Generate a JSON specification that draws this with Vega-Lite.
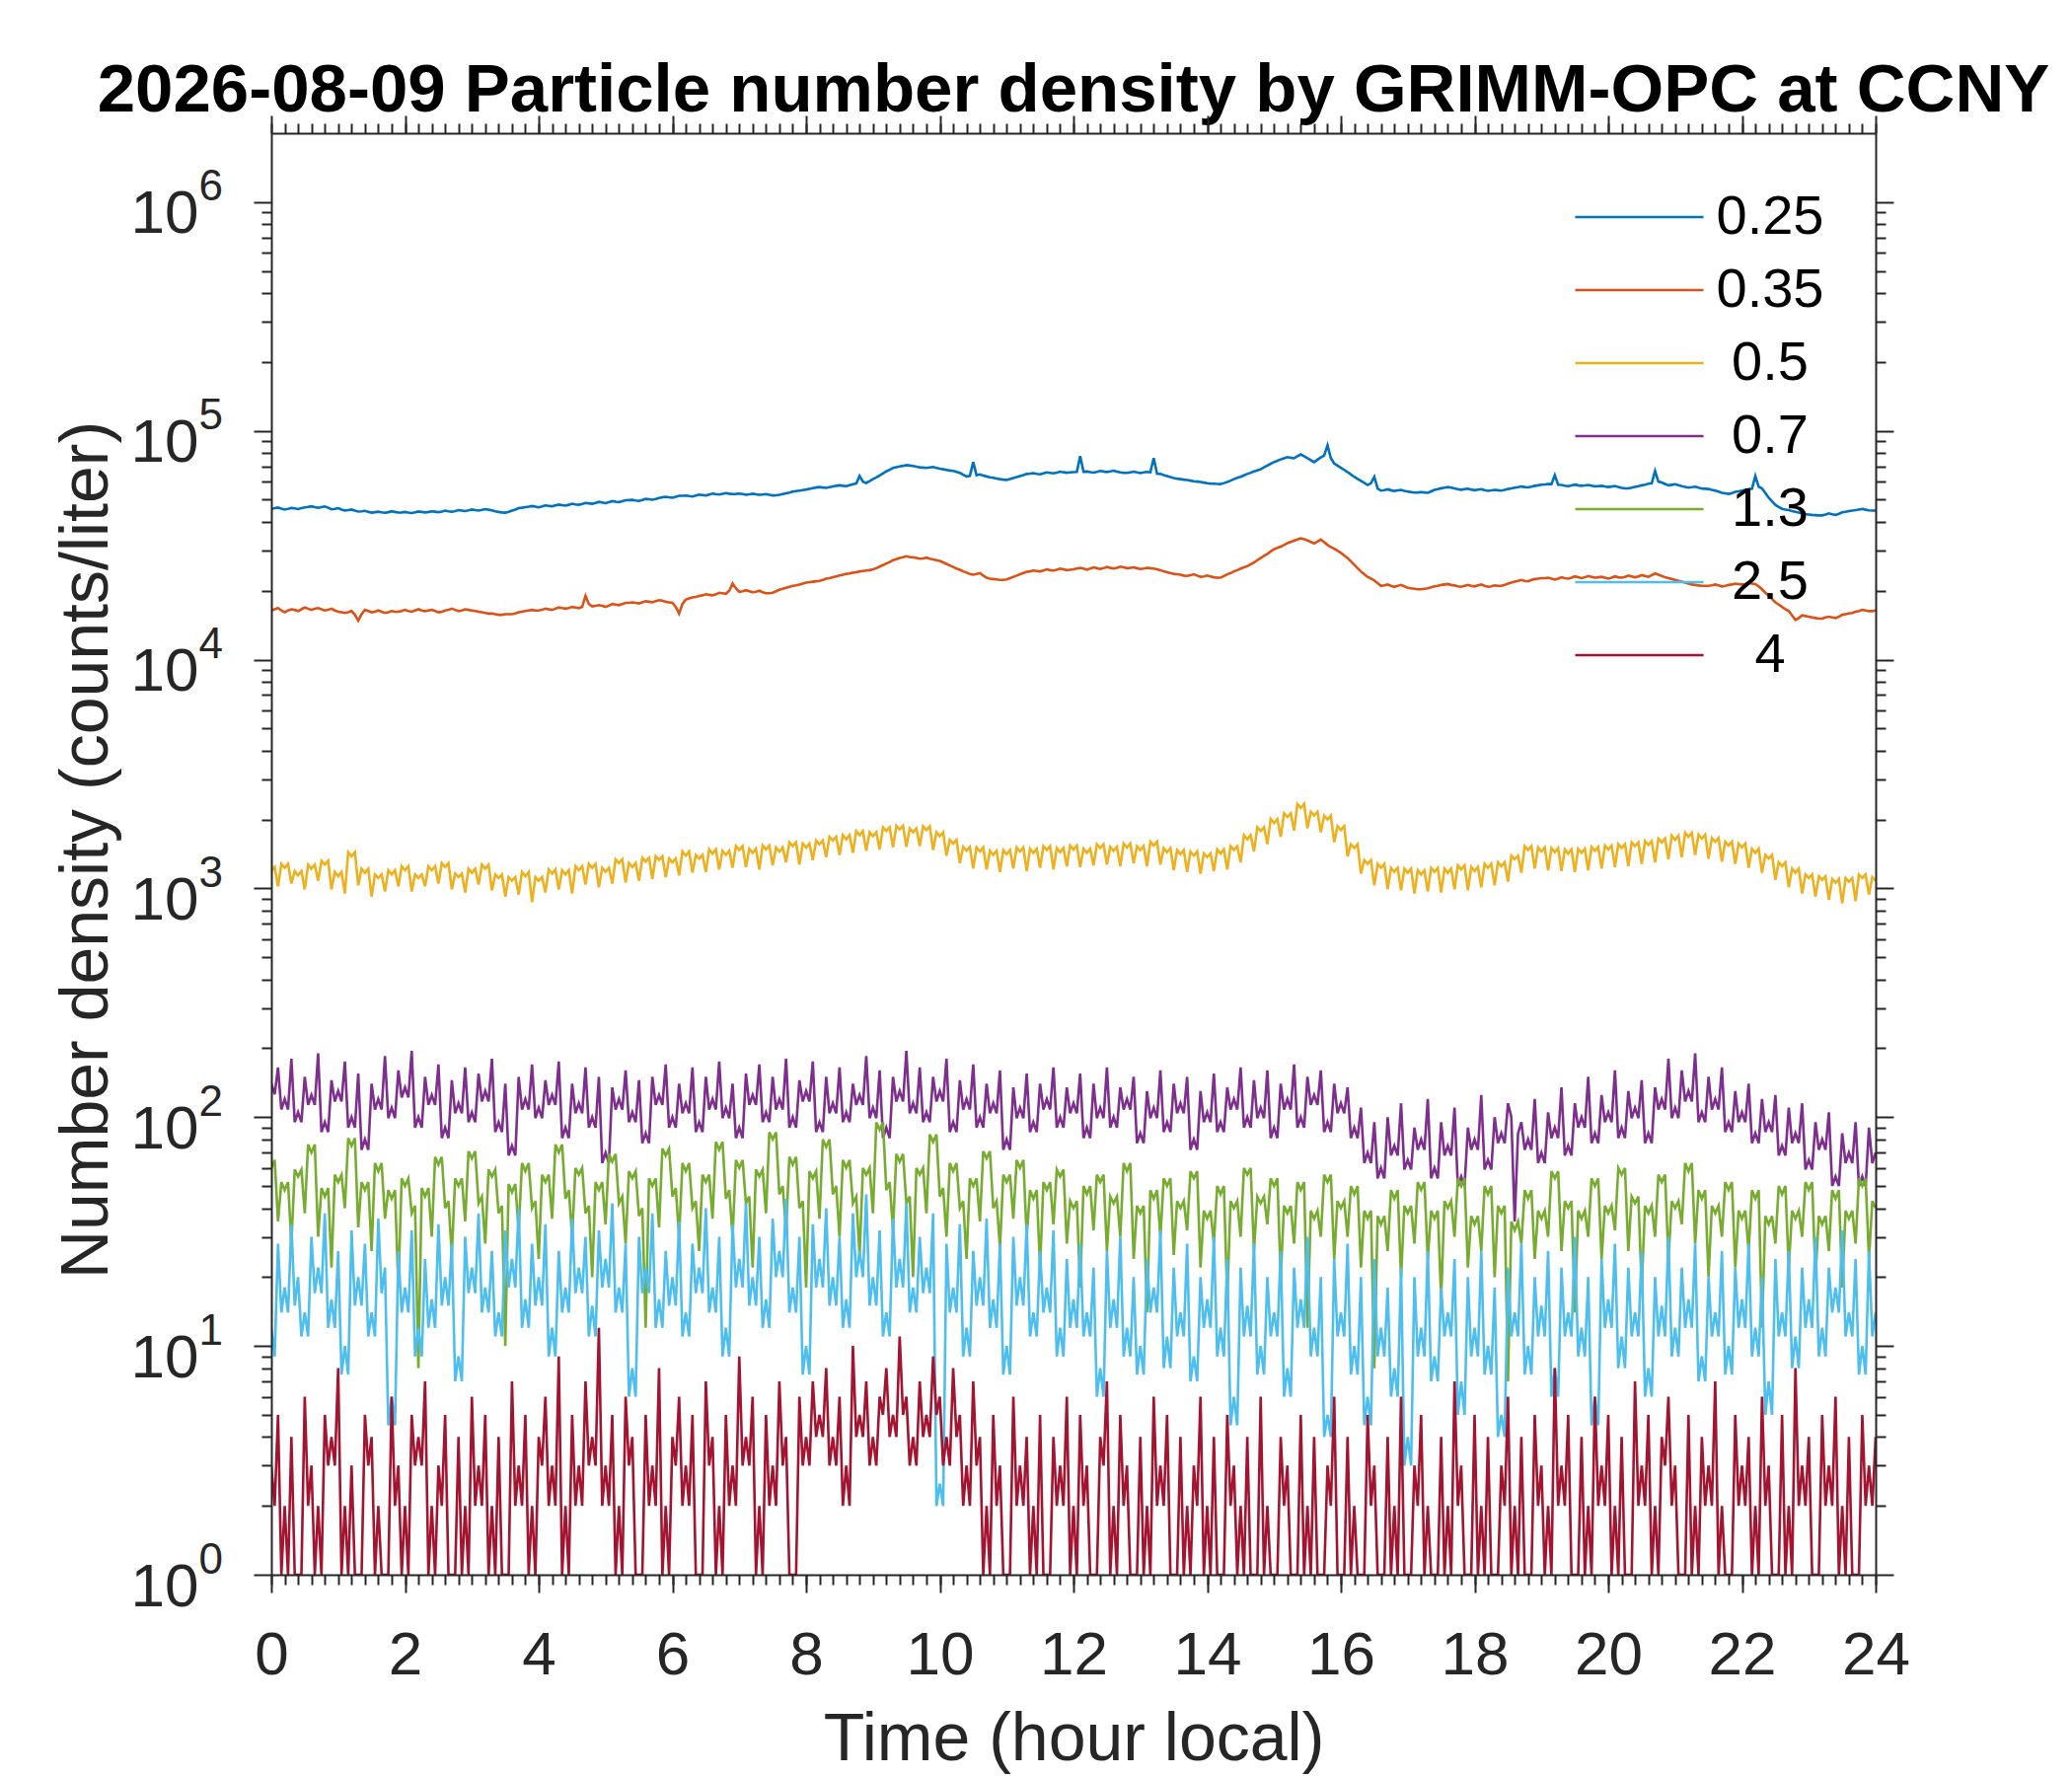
{
  "$schema": "https://vega.github.io/schema/vega-lite/v6.json",
  "width": 1626,
  "height": 1461,
  "autosize": {"type": "none"},
  "padding": {"left": 275, "top": 135, "right": 199, "bottom": 204},
  "background": "white",
  "title": {
    "text": "2026-08-09 Particle number density by GRIMM-OPC at CCNY",
    "font": "Liberation Sans",
    "fontSize": 69,
    "fontWeight": "bold",
    "color": "black",
    "anchor": "middle",
    "frame": "group",
    "baseline": "alphabetic",
    "offset": -66
  },
  "data": {
    "values": [
      {"t":0.0,"a":45600,"b":16400,"c":1190,"d":140,"e":60,"f":12,"g":3},
      {"t":0.1,"a":46200,"b":16800,"c":1020,"d":165,"e":35,"f":28,"g":5},
      {"t":0.2,"a":45300,"b":16100,"c":1230,"d":120,"e":48,"f":18,"g":2},
      {"t":0.3,"a":46000,"b":16600,"c":1050,"d":180,"e":28,"f":34,"g":4},
      {"t":0.4,"a":45500,"b":16300,"c":1140,"d":105,"e":55,"f":20,"g":1},
      {"t":0.5,"a":46300,"b":16900,"c":990,"d":150,"e":38,"f":14,"g":6},
      {"t":0.6,"a":46800,"b":16500,"c":1220,"d":125,"e":70,"f":30,"g":3},
      {"t":0.7,"a":46100,"b":16800,"c":1080,"d":190,"e":30,"f":22,"g":2},
      {"t":0.8,"a":46700,"b":16400,"c":1270,"d":95,"e":45,"f":38,"g":5},
      {"t":0.9,"a":45400,"b":16700,"c":990,"d":145,"e":22,"f":16,"g":4},
      {"t":1.0,"a":45900,"b":16200,"c":1130,"d":130,"e":52,"f":26,"g":8},
      {"t":1.1,"a":44800,"b":16000,"c":950,"d":175,"e":40,"f":10,"g":2},
      {"t":1.2,"a":45300,"b":16300,"c":1380,"d":100,"e":75,"f":32,"g":3},
      {"t":1.3,"a":44400,"b":14800,"c":1030,"d":155,"e":33,"f":20,"g":1},
      {"t":1.4,"a":44700,"b":16500,"c":1170,"d":80,"e":48,"f":28,"g":5},
      {"t":1.5,"a":43900,"b":16100,"c":920,"d":140,"e":26,"f":14,"g":4},
      {"t":1.6,"a":44300,"b":16400,"c":1110,"d":120,"e":58,"f":36,"g":2},
      {"t":1.7,"a":43800,"b":16000,"c":970,"d":185,"e":36,"f":22,"g":1},
      {"t":1.8,"a":44500,"b":16300,"c":1150,"d":110,"e":44,"f":6,"g":6},
      {"t":1.9,"a":43900,"b":16200,"c":1020,"d":160,"e":18,"f":26,"g":3},
      {"t":2.0,"a":44200,"b":16500,"c":1200,"d":135,"e":50,"f":18,"g":2},
      {"t":2.1,"a":43700,"b":16200,"c":970,"d":195,"e":38,"f":32,"g":5},
      {"t":2.2,"a":44400,"b":16600,"c":1110,"d":100,"e":8,"f":12,"g":4},
      {"t":2.3,"a":44000,"b":16300,"c":1020,"d":150,"e":45,"f":24,"g":7},
      {"t":2.4,"a":44500,"b":16500,"c":1200,"d":125,"e":30,"f":16,"g":2},
      {"t":2.5,"a":44100,"b":16100,"c":1050,"d":170,"e":62,"f":34,"g":3},
      {"t":2.6,"a":44800,"b":16400,"c":1240,"d":90,"e":40,"f":20,"g":5},
      {"t":2.7,"a":44300,"b":16700,"c":990,"d":145,"e":25,"f":28,"g":1},
      {"t":2.8,"a":45000,"b":16300,"c":1120,"d":115,"e":50,"f":9,"g":4},
      {"t":2.9,"a":44600,"b":16600,"c":960,"d":165,"e":35,"f":30,"g":2},
      {"t":3.0,"a":45300,"b":16400,"c":1170,"d":105,"e":66,"f":22,"g":6},
      {"t":3.1,"a":44800,"b":16200,"c":1040,"d":155,"e":42,"f":38,"g":3},
      {"t":3.2,"a":45500,"b":16000,"c":1220,"d":130,"e":28,"f":18,"g":5},
      {"t":3.3,"a":44900,"b":15900,"c":980,"d":180,"e":55,"f":26,"g":2},
      {"t":3.4,"a":44200,"b":15700,"c":1110,"d":95,"e":38,"f":14,"g":4},
      {"t":3.5,"a":43900,"b":15800,"c":920,"d":140,"e":10,"f":32,"g":1},
      {"t":3.6,"a":44800,"b":15800,"c":1080,"d":75,"e":47,"f":24,"g":7},
      {"t":3.7,"a":45900,"b":16100,"c":940,"d":150,"e":32,"f":40,"g":3},
      {"t":3.8,"a":46400,"b":16300,"c":1130,"d":120,"e":58,"f":16,"g":5},
      {"t":3.9,"a":46900,"b":16500,"c":870,"d":170,"e":40,"f":28,"g":2},
      {"t":4.0,"a":46300,"b":16400,"c":1080,"d":110,"e":24,"f":20,"g":4},
      {"t":4.1,"a":47200,"b":16700,"c":960,"d":145,"e":52,"f":34,"g":6},
      {"t":4.2,"a":46800,"b":16500,"c":1160,"d":125,"e":36,"f":12,"g":3},
      {"t":4.3,"a":47600,"b":16900,"c":990,"d":175,"e":70,"f":26,"g":9},
      {"t":4.4,"a":47100,"b":16700,"c":1150,"d":90,"e":44,"f":18,"g":2},
      {"t":4.5,"a":48000,"b":17000,"c":950,"d":140,"e":30,"f":36,"g":5},
      {"t":4.6,"a":47500,"b":16800,"c":1200,"d":115,"e":56,"f":22,"g":3},
      {"t":4.7,"a":48400,"b":19000,"c":1040,"d":165,"e":38,"f":30,"g":7},
      {"t":4.8,"a":48000,"b":17100,"c":1230,"d":100,"e":20,"f":15,"g":4},
      {"t":4.9,"a":48900,"b":17300,"c":1010,"d":150,"e":48,"f":32,"g":12},
      {"t":5.0,"a":48300,"b":17000,"c":1180,"d":70,"e":34,"f":24,"g":3},
      {"t":5.1,"a":49300,"b":17500,"c":1050,"d":135,"e":64,"f":42,"g":5},
      {"t":5.2,"a":48800,"b":17300,"c":1290,"d":120,"e":42,"f":18,"g":2},
      {"t":5.3,"a":49700,"b":17700,"c":1060,"d":160,"e":28,"f":28,"g":6},
      {"t":5.4,"a":49900,"b":17800,"c":1240,"d":105,"e":54,"f":8,"g":4},
      {"t":5.5,"a":49400,"b":17600,"c":1080,"d":145,"e":37,"f":30,"g":1},
      {"t":5.6,"a":50400,"b":18000,"c":1310,"d":85,"e":12,"f":22,"g":5},
      {"t":5.7,"a":50000,"b":17800,"c":1100,"d":150,"e":50,"f":38,"g":3},
      {"t":5.8,"a":50900,"b":18200,"c":1330,"d":125,"e":33,"f":16,"g":8},
      {"t":5.9,"a":51500,"b":17900,"c":1120,"d":170,"e":68,"f":26,"g":2},
      {"t":6.0,"a":51000,"b":17700,"c":1300,"d":100,"e":45,"f":20,"g":4},
      {"t":6.1,"a":52000,"b":15900,"c":1140,"d":140,"e":30,"f":35,"g":6},
      {"t":6.2,"a":52100,"b":18300,"c":1390,"d":115,"e":58,"f":14,"g":3},
      {"t":6.3,"a":51600,"b":18700,"c":1170,"d":165,"e":40,"f":28,"g":5},
      {"t":6.4,"a":52600,"b":19000,"c":1350,"d":95,"e":26,"f":22,"g":1},
      {"t":6.5,"a":52200,"b":19300,"c":1180,"d":150,"e":52,"f":40,"g":7},
      {"t":6.6,"a":53200,"b":19100,"c":1420,"d":120,"e":36,"f":18,"g":4},
      {"t":6.7,"a":52700,"b":19600,"c":1210,"d":175,"e":72,"f":30,"g":2},
      {"t":6.8,"a":53400,"b":19400,"c":1400,"d":110,"e":44,"f":12,"g":5},
      {"t":6.9,"a":52900,"b":21500,"c":1230,"d":140,"e":30,"f":34,"g":3},
      {"t":7.0,"a":53200,"b":19800,"c":1470,"d":90,"e":60,"f":24,"g":9},
      {"t":7.1,"a":52600,"b":20100,"c":1240,"d":155,"e":42,"f":42,"g":4},
      {"t":7.2,"a":53100,"b":19700,"c":1430,"d":125,"e":22,"f":20,"g":6},
      {"t":7.3,"a":52500,"b":20000,"c":1210,"d":170,"e":55,"f":30,"g":2},
      {"t":7.4,"a":52900,"b":19500,"c":1480,"d":105,"e":38,"f":16,"g":5},
      {"t":7.5,"a":52200,"b":19600,"c":1260,"d":150,"e":80,"f":36,"g":3},
      {"t":7.6,"a":52500,"b":20200,"c":1450,"d":120,"e":46,"f":26,"g":7},
      {"t":7.7,"a":53300,"b":20600,"c":1300,"d":180,"e":32,"f":44,"g":4},
      {"t":7.8,"a":54200,"b":21000,"c":1530,"d":100,"e":62,"f":18,"g":1},
      {"t":7.9,"a":54800,"b":21300,"c":1270,"d":145,"e":40,"f":30,"g":6},
      {"t":8.0,"a":55400,"b":21700,"c":1510,"d":130,"e":18,"f":10,"g":4},
      {"t":8.1,"a":56200,"b":21900,"c":1330,"d":175,"e":54,"f":34,"g":7},
      {"t":8.2,"a":56800,"b":22100,"c":1560,"d":95,"e":36,"f":24,"g":5},
      {"t":8.3,"a":56300,"b":22600,"c":1370,"d":150,"e":74,"f":40,"g":8},
      {"t":8.4,"a":57200,"b":22900,"c":1620,"d":115,"e":46,"f":20,"g":4},
      {"t":8.5,"a":57800,"b":23300,"c":1400,"d":165,"e":30,"f":30,"g":6},
      {"t":8.6,"a":57300,"b":23700,"c":1640,"d":105,"e":60,"f":16,"g":3},
      {"t":8.7,"a":58500,"b":24000,"c":1430,"d":140,"e":42,"f":38,"g":10},
      {"t":8.8,"a":63500,"b":24300,"c":1710,"d":125,"e":25,"f":26,"g":5},
      {"t":8.9,"a":59200,"b":24500,"c":1460,"d":185,"e":56,"f":46,"g":7},
      {"t":9.0,"a":61500,"b":24800,"c":1690,"d":110,"e":38,"f":20,"g":4},
      {"t":9.1,"a":63800,"b":25500,"c":1480,"d":160,"e":88,"f":32,"g":6},
      {"t":9.2,"a":66500,"b":26300,"c":1780,"d":90,"e":48,"f":14,"g":8},
      {"t":9.3,"a":68800,"b":27200,"c":1510,"d":150,"e":32,"f":36,"g":5},
      {"t":9.4,"a":69900,"b":27800,"c":1810,"d":130,"e":64,"f":24,"g":11},
      {"t":9.5,"a":70800,"b":28300,"c":1520,"d":195,"e":42,"f":42,"g":6},
      {"t":9.6,"a":70200,"b":28000,"c":1760,"d":115,"e":20,"f":18,"g":4},
      {"t":9.7,"a":69300,"b":27600,"c":1530,"d":165,"e":56,"f":30,"g":7},
      {"t":9.8,"a":68900,"b":27900,"c":1800,"d":105,"e":38,"f":22,"g":5},
      {"t":9.9,"a":69500,"b":27400,"c":1470,"d":150,"e":78,"f":38,"g":9},
      {"t":10.0,"a":68300,"b":27000,"c":1690,"d":130,"e":45,"f":2.5,"g":6},
      {"t":10.1,"a":67500,"b":26200,"c":1390,"d":180,"e":30,"f":28,"g":4},
      {"t":10.2,"a":66800,"b":25400,"c":1570,"d":95,"e":58,"f":18,"g":8},
      {"t":10.3,"a":65500,"b":24700,"c":1290,"d":145,"e":40,"f":34,"g":5},
      {"t":10.4,"a":63200,"b":24000,"c":1460,"d":120,"e":24,"f":12,"g":3},
      {"t":10.5,"a":73000,"b":23500,"c":1220,"d":170,"e":50,"f":26,"g":7},
      {"t":10.6,"a":64500,"b":23900,"c":1450,"d":100,"e":35,"f":20,"g":4},
      {"t":10.7,"a":63200,"b":22800,"c":1210,"d":140,"e":66,"f":36,"g":2},
      {"t":10.8,"a":62300,"b":22500,"c":1400,"d":115,"e":40,"f":16,"g":5},
      {"t":10.9,"a":61500,"b":22300,"c":1180,"d":160,"e":27,"f":28,"g":3},
      {"t":11.0,"a":61000,"b":22400,"c":1410,"d":80,"e":52,"f":10,"g":1},
      {"t":11.1,"a":62200,"b":23000,"c":1220,"d":135,"e":36,"f":30,"g":6},
      {"t":11.2,"a":63500,"b":23600,"c":1450,"d":110,"e":60,"f":20,"g":3},
      {"t":11.3,"a":64800,"b":24200,"c":1190,"d":155,"e":30,"f":34,"g":4},
      {"t":11.4,"a":65300,"b":24500,"c":1430,"d":95,"e":44,"f":14,"g":2},
      {"t":11.5,"a":64600,"b":24300,"c":1230,"d":140,"e":22,"f":26,"g":5},
      {"t":11.6,"a":65800,"b":24800,"c":1470,"d":120,"e":48,"f":18,"g":1},
      {"t":11.7,"a":65200,"b":24500,"c":1210,"d":165,"e":34,"f":32,"g":4},
      {"t":11.8,"a":66300,"b":25000,"c":1440,"d":100,"e":55,"f":12,"g":3},
      {"t":11.9,"a":65600,"b":24600,"c":1250,"d":135,"e":28,"f":24,"g":6},
      {"t":12.0,"a":66000,"b":24800,"c":1480,"d":115,"e":40,"f":16,"g":2},
      {"t":12.1,"a":77500,"b":25200,"c":1240,"d":155,"e":18,"f":28,"g":5},
      {"t":12.2,"a":66400,"b":24700,"c":1430,"d":90,"e":46,"f":14,"g":3},
      {"t":12.3,"a":65700,"b":25300,"c":1260,"d":140,"e":32,"f":22,"g":1},
      {"t":12.4,"a":66800,"b":24900,"c":1500,"d":110,"e":52,"f":8,"g":4},
      {"t":12.5,"a":66100,"b":25400,"c":1270,"d":165,"e":26,"f":26,"g":7},
      {"t":12.6,"a":67000,"b":25000,"c":1460,"d":100,"e":42,"f":16,"g":2},
      {"t":12.7,"a":65800,"b":25500,"c":1250,"d":135,"e":30,"f":30,"g":5},
      {"t":12.8,"a":65500,"b":25100,"c":1510,"d":120,"e":58,"f":12,"g":3},
      {"t":12.9,"a":66300,"b":25300,"c":1290,"d":150,"e":24,"f":20,"g":1},
      {"t":13.0,"a":65400,"b":24900,"c":1470,"d":85,"e":38,"f":10,"g":4},
      {"t":13.1,"a":66200,"b":25200,"c":1250,"d":130,"e":14,"f":24,"g":2},
      {"t":13.2,"a":76000,"b":25000,"c":1540,"d":110,"e":44,"f":18,"g":6},
      {"t":13.3,"a":64800,"b":24600,"c":1270,"d":160,"e":30,"f":32,"g":3},
      {"t":13.4,"a":63500,"b":24100,"c":1440,"d":95,"e":50,"f":11,"g":5},
      {"t":13.5,"a":62200,"b":23700,"c":1200,"d":140,"e":25,"f":22,"g":1},
      {"t":13.6,"a":61500,"b":23500,"c":1410,"d":115,"e":40,"f":14,"g":4},
      {"t":13.7,"a":61000,"b":23200,"c":1180,"d":150,"e":32,"f":28,"g":2},
      {"t":13.8,"a":60200,"b":23600,"c":1390,"d":80,"e":54,"f":9,"g":3},
      {"t":13.9,"a":59800,"b":23000,"c":1160,"d":130,"e":22,"f":20,"g":6},
      {"t":14.0,"a":59000,"b":23300,"c":1370,"d":105,"e":36,"f":16,"g":2},
      {"t":14.1,"a":58700,"b":22900,"c":1190,"d":155,"e":28,"f":30,"g":4},
      {"t":14.2,"a":58500,"b":22800,"c":1420,"d":95,"e":46,"f":12,"g":1},
      {"t":14.3,"a":59800,"b":23600,"c":1210,"d":135,"e":16,"f":24,"g":5},
      {"t":14.4,"a":61500,"b":24300,"c":1470,"d":120,"e":40,"f":6,"g":3},
      {"t":14.5,"a":63000,"b":25000,"c":1300,"d":165,"e":30,"f":22,"g":2},
      {"t":14.6,"a":64800,"b":25600,"c":1640,"d":100,"e":56,"f":15,"g":4},
      {"t":14.7,"a":66500,"b":26600,"c":1450,"d":145,"e":26,"f":28,"g":1},
      {"t":14.8,"a":67900,"b":27800,"c":1780,"d":110,"e":42,"f":10,"g":6},
      {"t":14.9,"a":70500,"b":29000,"c":1560,"d":160,"e":34,"f":20,"g":2},
      {"t":15.0,"a":73000,"b":30400,"c":1930,"d":90,"e":50,"f":14,"g":1},
      {"t":15.1,"a":75000,"b":31200,"c":1680,"d":140,"e":20,"f":26,"g":4},
      {"t":15.2,"a":76800,"b":32300,"c":2050,"d":120,"e":38,"f":8,"g":3},
      {"t":15.3,"a":75900,"b":33100,"c":1790,"d":170,"e":28,"f":22,"g":1},
      {"t":15.4,"a":78900,"b":33900,"c":2250,"d":100,"e":48,"f":16,"g":5},
      {"t":15.5,"a":76000,"b":33200,"c":1830,"d":150,"e":12,"f":30,"g":2},
      {"t":15.6,"a":73000,"b":32200,"c":2080,"d":125,"e":36,"f":12,"g":4},
      {"t":15.7,"a":76500,"b":33500,"c":1760,"d":160,"e":30,"f":20,"g":1},
      {"t":15.8,"a":86500,"b":31700,"c":2000,"d":95,"e":52,"f":5,"g":3},
      {"t":15.9,"a":72000,"b":30500,"c":1590,"d":140,"e":24,"f":24,"g":6},
      {"t":16.0,"a":69000,"b":29300,"c":1800,"d":115,"e":40,"f":14,"g":1},
      {"t":16.1,"a":66000,"b":27800,"c":1380,"d":135,"e":30,"f":28,"g":4},
      {"t":16.2,"a":63000,"b":26000,"c":1500,"d":90,"e":46,"f":10,"g":2},
      {"t":16.3,"a":60400,"b":24300,"c":1160,"d":110,"e":22,"f":20,"g":1},
      {"t":16.4,"a":58000,"b":23000,"c":1280,"d":70,"e":36,"f":6,"g":5},
      {"t":16.5,"a":63000,"b":22200,"c":1030,"d":95,"e":8,"f":24,"g":3},
      {"t":16.6,"a":54800,"b":21000,"c":1230,"d":60,"e":34,"f":12,"g":1},
      {"t":16.7,"a":55500,"b":21300,"c":990,"d":100,"e":26,"f":18,"g":4},
      {"t":16.8,"a":54600,"b":20800,"c":1180,"d":75,"e":44,"f":8,"g":2},
      {"t":16.9,"a":55200,"b":21200,"c":980,"d":115,"e":20,"f":22,"g":6},
      {"t":17.0,"a":54300,"b":20600,"c":1170,"d":65,"e":38,"f":4,"g":1},
      {"t":17.1,"a":53700,"b":20400,"c":950,"d":90,"e":28,"f":20,"g":3},
      {"t":17.2,"a":54000,"b":20300,"c":1150,"d":80,"e":48,"f":12,"g":5},
      {"t":17.3,"a":53600,"b":20500,"c":970,"d":120,"e":24,"f":26,"g":2},
      {"t":17.4,"a":55200,"b":20900,"c":1180,"d":60,"e":36,"f":9,"g":1},
      {"t":17.5,"a":56100,"b":21200,"c":960,"d":95,"e":16,"f":18,"g":4},
      {"t":17.6,"a":56800,"b":21400,"c":1170,"d":75,"e":40,"f":14,"g":2},
      {"t":17.7,"a":56000,"b":21100,"c":990,"d":110,"e":30,"f":24,"g":7},
      {"t":17.8,"a":55300,"b":20800,"c":1210,"d":55,"e":50,"f":7,"g":3},
      {"t":17.9,"a":55900,"b":21200,"c":980,"d":90,"e":22,"f":20,"g":1},
      {"t":18.0,"a":55000,"b":20900,"c":1190,"d":80,"e":34,"f":12,"g":5},
      {"t":18.1,"a":55600,"b":21300,"c":1010,"d":125,"e":26,"f":26,"g":2},
      {"t":18.2,"a":54700,"b":20800,"c":1230,"d":65,"e":46,"f":10,"g":4},
      {"t":18.3,"a":55200,"b":21100,"c":1030,"d":100,"e":20,"f":18,"g":1},
      {"t":18.4,"a":54800,"b":21000,"c":1250,"d":85,"e":38,"f":5,"g":3},
      {"t":18.5,"a":55700,"b":21500,"c":1070,"d":115,"e":7,"f":22,"g":6},
      {"t":18.6,"a":56400,"b":21900,"c":1340,"d":35,"e":32,"f":14,"g":2},
      {"t":18.7,"a":57100,"b":22300,"c":1170,"d":95,"e":28,"f":28,"g":4},
      {"t":18.8,"a":56600,"b":22000,"c":1470,"d":80,"e":44,"f":10,"g":1},
      {"t":18.9,"a":57500,"b":22500,"c":1220,"d":120,"e":24,"f":20,"g":5},
      {"t":19.0,"a":58200,"b":22700,"c":1450,"d":70,"e":36,"f":15,"g":3},
      {"t":19.1,"a":58500,"b":22800,"c":1200,"d":105,"e":30,"f":26,"g":2},
      {"t":19.2,"a":64000,"b":22400,"c":1440,"d":90,"e":54,"f":8,"g":8},
      {"t":19.3,"a":58000,"b":22900,"c":1190,"d":135,"e":26,"f":22,"g":3},
      {"t":19.4,"a":57300,"b":22600,"c":1420,"d":75,"e":40,"f":14,"g":5},
      {"t":19.5,"a":58200,"b":23100,"c":1180,"d":115,"e":14,"f":30,"g":1},
      {"t":19.6,"a":57500,"b":22700,"c":1430,"d":100,"e":36,"f":12,"g":4},
      {"t":19.7,"a":58000,"b":23200,"c":1200,"d":150,"e":30,"f":20,"g":2},
      {"t":19.8,"a":57200,"b":22800,"c":1460,"d":85,"e":50,"f":6,"g":6},
      {"t":19.9,"a":57500,"b":23000,"c":1220,"d":125,"e":24,"f":24,"g":3},
      {"t":20.0,"a":56800,"b":22600,"c":1480,"d":105,"e":38,"f":16,"g":5},
      {"t":20.1,"a":57400,"b":23100,"c":1240,"d":160,"e":32,"f":28,"g":2},
      {"t":20.2,"a":56300,"b":22800,"c":1500,"d":90,"e":56,"f":11,"g":4},
      {"t":20.3,"a":56000,"b":23300,"c":1250,"d":130,"e":26,"f":22,"g":1},
      {"t":20.4,"a":56900,"b":22900,"c":1530,"d":110,"e":42,"f":14,"g":7},
      {"t":20.5,"a":57800,"b":23400,"c":1280,"d":145,"e":18,"f":26,"g":3},
      {"t":20.6,"a":58700,"b":23000,"c":1550,"d":85,"e":38,"f":8,"g":5},
      {"t":20.7,"a":66800,"b":23800,"c":1300,"d":135,"e":30,"f":20,"g":2},
      {"t":20.8,"a":59500,"b":23200,"c":1590,"d":120,"e":52,"f":15,"g":4},
      {"t":20.9,"a":57800,"b":22700,"c":1340,"d":180,"e":24,"f":30,"g":6},
      {"t":21.0,"a":58400,"b":22300,"c":1630,"d":110,"e":40,"f":12,"g":3},
      {"t":21.1,"a":57300,"b":21900,"c":1370,"d":160,"e":34,"f":22,"g":1},
      {"t":21.2,"a":56500,"b":21500,"c":1680,"d":130,"e":58,"f":16,"g":5},
      {"t":21.3,"a":57000,"b":21200,"c":1400,"d":190,"e":28,"f":28,"g":2},
      {"t":21.4,"a":55900,"b":21000,"c":1650,"d":105,"e":44,"f":9,"g":4},
      {"t":21.5,"a":55700,"b":21000,"c":1350,"d":150,"e":20,"f":20,"g":3},
      {"t":21.6,"a":54800,"b":21300,"c":1600,"d":120,"e":38,"f":14,"g":7},
      {"t":21.7,"a":53600,"b":20900,"c":1310,"d":165,"e":30,"f":26,"g":2},
      {"t":21.8,"a":53000,"b":21200,"c":1540,"d":95,"e":48,"f":10,"g":1},
      {"t":21.9,"a":54100,"b":21500,"c":1280,"d":130,"e":22,"f":22,"g":5},
      {"t":22.0,"a":54800,"b":21300,"c":1510,"d":105,"e":36,"f":16,"g":3},
      {"t":22.1,"a":55600,"b":21600,"c":1230,"d":140,"e":26,"f":28,"g":4},
      {"t":22.2,"a":63500,"b":21400,"c":1430,"d":85,"e":44,"f":12,"g":2},
      {"t":22.3,"a":56000,"b":20300,"c":1170,"d":120,"e":12,"f":20,"g":6},
      {"t":22.4,"a":51000,"b":19000,"c":1350,"d":95,"e":34,"f":7,"g":3},
      {"t":22.5,"a":47500,"b":17800,"c":1090,"d":125,"e":28,"f":24,"g":1},
      {"t":22.6,"a":45600,"b":17000,"c":1250,"d":75,"e":46,"f":14,"g":5},
      {"t":22.7,"a":45000,"b":16300,"c":1010,"d":110,"e":22,"f":26,"g":2},
      {"t":22.8,"a":44300,"b":14900,"c":1170,"d":85,"e":36,"f":11,"g":8},
      {"t":22.9,"a":43600,"b":15600,"c":950,"d":115,"e":30,"f":22,"g":3},
      {"t":23.0,"a":43100,"b":15400,"c":1110,"d":65,"e":48,"f":16,"g":4},
      {"t":23.1,"a":42800,"b":15200,"c":920,"d":95,"e":20,"f":30,"g":1},
      {"t":23.2,"a":42700,"b":15100,"c":1090,"d":80,"e":34,"f":12,"g":5},
      {"t":23.3,"a":43600,"b":15400,"c":890,"d":105,"e":26,"f":22,"g":3},
      {"t":23.4,"a":42900,"b":15200,"c":1060,"d":55,"e":44,"f":18,"g":6},
      {"t":23.5,"a":44000,"b":15700,"c":860,"d":85,"e":18,"f":32,"g":2},
      {"t":23.6,"a":44600,"b":15900,"c":1070,"d":70,"e":36,"f":14,"g":4},
      {"t":23.7,"a":45000,"b":16200,"c":880,"d":95,"e":28,"f":24,"g":1},
      {"t":23.8,"a":45600,"b":16500,"c":1110,"d":55,"e":50,"f":10,"g":5},
      {"t":23.9,"a":44900,"b":16300,"c":940,"d":90,"e":24,"f":26,"g":3},
      {"t":24.0,"a":44800,"b":16400,"c":1080,"d":70,"e":40,"f":14,"g":4},
      {"t":0.05,"a":45900,"b":16600,"c":1240,"d":126,"e":65,"f":9,"g":2},
      {"t":0.15,"a":45700,"b":16400,"c":1280,"d":108,"e":52,"f":14,"g":1},
      {"t":0.25,"a":45600,"b":16400,"c":1280,"d":108,"e":52,"f":14,"g":1},
      {"t":0.35,"a":45800,"b":16500,"c":1190,"d":95,"e":59,"f":15,"g":1},
      {"t":0.45,"a":45900,"b":16600,"c":1190,"d":95,"e":59,"f":11,"g":1},
      {"t":0.55,"a":46500,"b":16700,"c":1270,"d":113,"e":76,"f":11,"g":2},
      {"t":0.65,"a":46400,"b":16700,"c":1270,"d":113,"e":76,"f":17,"g":1},
      {"t":0.75,"a":46400,"b":16600,"c":1320,"d":86,"e":49,"f":17,"g":1},
      {"t":0.85,"a":46100,"b":16500,"c":1320,"d":86,"e":49,"f":12,"g":3},
      {"t":0.95,"a":45600,"b":16400,"c":1180,"d":117,"e":56,"f":12,"g":3},
      {"t":1.05,"a":45300,"b":16100,"c":1180,"d":117,"e":56,"f":7.5,"g":1},
      {"t":1.15,"a":45000,"b":16100,"c":1440,"d":90,"e":81,"f":7.5,"g":1},
      {"t":1.25,"a":44800,"b":15700,"c":1440,"d":90,"e":81,"f":15,"g":1},
      {"t":1.35,"a":44500,"b":15800,"c":1220,"d":72,"e":52,"f":15,"g":1},
      {"t":1.45,"a":44300,"b":16300,"c":1220,"d":72,"e":52,"f":11,"g":3},
      {"t":1.55,"a":44100,"b":16200,"c":1150,"d":108,"e":63,"f":11,"g":1},
      {"t":1.65,"a":44000,"b":16200,"c":1150,"d":108,"e":63,"f":17,"g":1},
      {"t":1.75,"a":44100,"b":16100,"c":1200,"d":99,"e":48,"f":4.5,"g":1},
      {"t":1.85,"a":44200,"b":16200,"c":1200,"d":99,"e":48,"f":4.5,"g":2},
      {"t":1.95,"a":44000,"b":16300,"c":1250,"d":122,"e":54,"f":14,"g":1},
      {"t":2.05,"a":43900,"b":16300,"c":1250,"d":122,"e":54,"f":14,"g":1},
      {"t":2.15,"a":44000,"b":16400,"c":1150,"d":90,"e":41,"f":9,"g":3},
      {"t":2.25,"a":44200,"b":16400,"c":1150,"d":90,"e":49,"f":9,"g":3},
      {"t":2.35,"a":44200,"b":16400,"c":1250,"d":113,"e":49,"f":12,"g":1},
      {"t":2.45,"a":44300,"b":16300,"c":1250,"d":113,"e":67,"f":12,"g":1},
      {"t":2.55,"a":44400,"b":16200,"c":1290,"d":81,"e":67,"f":15,"g":2},
      {"t":2.65,"a":44500,"b":16500,"c":1290,"d":81,"e":43,"f":15,"g":1},
      {"t":2.75,"a":44600,"b":16500,"c":1160,"d":104,"e":54,"f":7,"g":1},
      {"t":2.85,"a":44800,"b":16400,"c":1160,"d":104,"e":54,"f":7,"g":1},
      {"t":2.95,"a":44900,"b":16500,"c":1220,"d":95,"e":71,"f":17,"g":1},
      {"t":3.05,"a":45000,"b":16300,"c":1220,"d":95,"e":71,"f":17,"g":2},
      {"t":3.15,"a":45100,"b":16100,"c":1270,"d":117,"e":45,"f":14,"g":2},
      {"t":3.25,"a":45200,"b":15900,"c":1270,"d":117,"e":59,"f":14,"g":1},
      {"t":3.35,"a":44500,"b":15800,"c":1150,"d":86,"e":59,"f":11,"g":1},
      {"t":3.45,"a":44000,"b":15700,"c":1150,"d":86,"e":41,"f":11,"g":1},
      {"t":3.55,"a":44300,"b":15800,"c":1120,"d":68,"e":51,"f":18,"g":1},
      {"t":3.65,"a":45300,"b":15900,"c":1120,"d":68,"e":51,"f":18,"g":2},
      {"t":3.75,"a":46100,"b":16200,"c":1180,"d":108,"e":63,"f":12,"g":2},
      {"t":3.85,"a":46600,"b":16400,"c":1180,"d":108,"e":63,"f":12,"g":1},
      {"t":3.95,"a":46600,"b":16400,"c":1120,"d":99,"e":43,"f":15,"g":1},
      {"t":4.05,"a":46700,"b":16500,"c":1120,"d":99,"e":56,"f":15,"g":3},
      {"t":4.15,"a":47000,"b":16600,"c":1210,"d":113,"e":56,"f":9,"g":2},
      {"t":4.25,"a":47200,"b":16700,"c":1210,"d":113,"e":76,"f":9,"g":2},
      {"t":4.35,"a":47300,"b":16800,"c":1200,"d":81,"e":76,"f":14,"g":1},
      {"t":4.45,"a":47500,"b":16800,"c":1200,"d":81,"e":48,"f":14,"g":1},
      {"t":4.55,"a":47700,"b":16900,"c":1250,"d":104,"e":60,"f":17,"g":2},
      {"t":4.65,"a":47900,"b":17000,"c":1250,"d":104,"e":60,"f":17,"g":2},
      {"t":4.75,"a":48200,"b":17500,"c":1280,"d":90,"e":41,"f":11,"g":3},
      {"t":4.85,"a":48400,"b":17200,"c":1280,"d":90,"e":52,"f":11,"g":3},
      {"t":4.95,"a":48600,"b":17200,"c":1230,"d":63,"e":52,"f":18,"g":2},
      {"t":5.05,"a":48800,"b":17200,"c":1230,"d":63,"e":69,"f":18,"g":2},
      {"t":5.15,"a":49000,"b":17400,"c":1340,"d":108,"e":69,"f":14,"g":1},
      {"t":5.25,"a":49200,"b":17500,"c":1340,"d":108,"e":45,"f":14,"g":1},
      {"t":5.35,"a":49800,"b":17700,"c":1290,"d":95,"e":58,"f":6,"g":3},
      {"t":5.45,"a":49600,"b":17700,"c":1290,"d":95,"e":58,"f":6,"g":1},
      {"t":5.55,"a":49900,"b":17800,"c":1360,"d":77,"e":40,"f":17,"g":1},
      {"t":5.65,"a":50200,"b":17900,"c":1360,"d":77,"e":54,"f":17,"g":2},
      {"t":5.75,"a":50400,"b":18000,"c":1380,"d":113,"e":54,"f":12,"g":2},
      {"t":5.85,"a":51200,"b":18100,"c":1380,"d":113,"e":73,"f":12,"g":1},
      {"t":5.95,"a":51200,"b":17800,"c":1350,"d":90,"e":73,"f":15,"g":1},
      {"t":6.05,"a":51500,"b":17000,"c":1350,"d":90,"e":49,"f":15,"g":3},
      {"t":6.15,"a":52000,"b":17500,"c":1450,"d":104,"e":63,"f":11,"g":2},
      {"t":6.25,"a":51900,"b":18500,"c":1450,"d":104,"e":63,"f":11,"g":2},
      {"t":6.35,"a":52100,"b":18800,"c":1400,"d":86,"e":43,"f":17,"g":1},
      {"t":6.45,"a":52400,"b":19100,"c":1400,"d":86,"e":56,"f":17,"g":1},
      {"t":6.55,"a":52700,"b":19200,"c":1480,"d":108,"e":56,"f":14,"g":3},
      {"t":6.65,"a":52900,"b":19300,"c":1480,"d":108,"e":78,"f":14,"g":1},
      {"t":6.75,"a":53000,"b":19500,"c":1460,"d":99,"e":78,"f":9,"g":1},
      {"t":6.85,"a":53100,"b":20000,"c":1460,"d":99,"e":48,"f":9,"g":2},
      {"t":6.95,"a":53000,"b":20500,"c":1530,"d":81,"e":65,"f":18,"g":2},
      {"t":7.05,"a":52900,"b":19900,"c":1530,"d":81,"e":65,"f":18,"g":3},
      {"t":7.15,"a":52800,"b":19900,"c":1490,"d":113,"e":45,"f":15,"g":3},
      {"t":7.25,"a":52800,"b":19800,"c":1490,"d":113,"e":59,"f":15,"g":1},
      {"t":7.35,"a":52700,"b":19700,"c":1540,"d":95,"e":59,"f":12,"g":1},
      {"t":7.45,"a":52500,"b":19500,"c":1540,"d":95,"e":86,"f":12,"g":2},
      {"t":7.55,"a":52300,"b":19900,"c":1510,"d":108,"e":86,"f":20,"g":2},
      {"t":7.65,"a":52900,"b":20400,"c":1510,"d":108,"e":50,"f":20,"g":3},
      {"t":7.75,"a":53700,"b":20800,"c":1590,"d":90,"e":67,"f":14,"g":1},
      {"t":7.85,"a":54500,"b":21100,"c":1590,"d":90,"e":67,"f":14,"g":1},
      {"t":7.95,"a":55100,"b":21500,"c":1570,"d":117,"e":43,"f":7.5,"g":3},
      {"t":8.05,"a":55800,"b":21800,"c":1570,"d":117,"e":58,"f":7.5,"g":3},
      {"t":8.15,"a":56500,"b":22000,"c":1620,"d":86,"e":58,"f":18,"g":4},
      {"t":8.25,"a":56500,"b":22300,"c":1620,"d":86,"e":80,"f":18,"g":4},
      {"t":8.35,"a":56700,"b":22700,"c":1680,"d":104,"e":80,"f":15,"g":3},
      {"t":8.45,"a":57500,"b":23100,"c":1680,"d":104,"e":50,"f":15,"g":3},
      {"t":8.55,"a":57500,"b":23500,"c":1710,"d":95,"e":65,"f":12,"g":2},
      {"t":8.65,"a":57900,"b":23800,"c":1710,"d":95,"e":65,"f":12,"g":2},
      {"t":8.75,"a":58800,"b":24100,"c":1780,"d":113,"e":45,"f":20,"g":4},
      {"t":8.85,"a":60000,"b":24400,"c":1780,"d":113,"e":60,"f":20,"g":4},
      {"t":8.95,"a":60300,"b":24600,"c":1760,"d":99,"e":60,"f":15,"g":3},
      {"t":9.05,"a":62600,"b":25100,"c":1760,"d":99,"e":95,"f":15,"g":3},
      {"t":9.15,"a":65100,"b":25900,"c":1850,"d":81,"e":95,"f":11,"g":5},
      {"t":9.25,"a":67600,"b":26700,"c":1850,"d":81,"e":52,"f":11,"g":4},
      {"t":9.35,"a":69300,"b":27500,"c":1880,"d":117,"e":69,"f":18,"g":4},
      {"t":9.45,"a":70300,"b":28000,"c":1880,"d":117,"e":69,"f":18,"g":5},
      {"t":9.55,"a":70500,"b":28100,"c":1830,"d":104,"e":45,"f":14,"g":3},
      {"t":9.65,"a":69700,"b":27800,"c":1830,"d":104,"e":60,"f":14,"g":3},
      {"t":9.75,"a":69100,"b":27700,"c":1870,"d":95,"e":60,"f":17,"g":4},
      {"t":9.85,"a":69200,"b":27600,"c":1870,"d":95,"e":84,"f":17,"g":4},
      {"t":9.95,"a":68900,"b":27200,"c":1760,"d":117,"e":84,"f":2,"g":5},
      {"t":10.05,"a":67900,"b":26600,"c":1760,"d":117,"e":49,"f":2,"g":3},
      {"t":10.15,"a":67100,"b":25800,"c":1630,"d":86,"e":63,"f":14,"g":3},
      {"t":10.25,"a":66100,"b":25000,"c":1630,"d":86,"e":63,"f":14,"g":4},
      {"t":10.35,"a":64300,"b":24300,"c":1520,"d":108,"e":43,"f":9,"g":2},
      {"t":10.45,"a":63500,"b":23700,"c":1520,"d":108,"e":54,"f":9,"g":2},
      {"t":10.55,"a":64000,"b":23700,"c":1510,"d":90,"e":54,"f":15,"g":3},
      {"t":10.65,"a":63800,"b":23300,"c":1510,"d":90,"e":71,"f":15,"g":1},
      {"t":10.75,"a":62700,"b":22600,"c":1460,"d":104,"e":71,"f":12,"g":1},
      {"t":10.85,"a":61900,"b":22400,"c":1460,"d":104,"e":43,"f":12,"g":2},
      {"t":10.95,"a":61200,"b":22300,"c":1470,"d":72,"e":56,"f":7.5,"g":1},
      {"t":11.05,"a":61600,"b":22700,"c":1470,"d":72,"e":56,"f":7.5,"g":1},
      {"t":11.15,"a":62800,"b":23300,"c":1510,"d":99,"e":65,"f":15,"g":2},
      {"t":11.25,"a":64100,"b":23900,"c":1510,"d":99,"e":65,"f":15,"g":2},
      {"t":11.35,"a":65000,"b":24300,"c":1490,"d":86,"e":48,"f":11,"g":1},
      {"t":11.45,"a":64900,"b":24400,"c":1490,"d":86,"e":48,"f":11,"g":1},
      {"t":11.55,"a":65200,"b":24500,"c":1530,"d":108,"e":52,"f":14,"g":1},
      {"t":11.65,"a":65500,"b":24600,"c":1530,"d":108,"e":52,"f":14,"g":1},
      {"t":11.75,"a":65700,"b":24700,"c":1500,"d":90,"e":59,"f":9,"g":2},
      {"t":11.85,"a":65900,"b":24800,"c":1500,"d":90,"e":59,"f":9,"g":2},
      {"t":11.95,"a":65800,"b":24700,"c":1540,"d":104,"e":43,"f":12,"g":1},
      {"t":12.05,"a":66200,"b":25000,"c":1540,"d":104,"e":43,"f":12,"g":1},
      {"t":12.15,"a":66300,"b":25000,"c":1490,"d":81,"e":50,"f":11,"g":2},
      {"t":12.25,"a":66000,"b":25000,"c":1490,"d":81,"e":50,"f":11,"g":1},
      {"t":12.35,"a":66200,"b":25100,"c":1560,"d":99,"e":56,"f":6,"g":1},
      {"t":12.45,"a":66400,"b":25100,"c":1560,"d":99,"e":56,"f":6,"g":3},
      {"t":12.55,"a":66500,"b":25200,"c":1520,"d":90,"e":45,"f":12,"g":1},
      {"t":12.65,"a":66400,"b":25200,"c":1520,"d":90,"e":45,"f":12,"g":1},
      {"t":12.75,"a":65600,"b":25300,"c":1570,"d":108,"e":63,"f":9,"g":2},
      {"t":12.85,"a":65900,"b":25200,"c":1570,"d":108,"e":63,"f":9,"g":1},
      {"t":12.95,"a":65800,"b":25100,"c":1530,"d":77,"e":41,"f":7.5,"g":1},
      {"t":13.05,"a":65800,"b":25000,"c":1530,"d":77,"e":41,"f":7.5,"g":1},
      {"t":13.15,"a":66000,"b":25100,"c":1600,"d":99,"e":48,"f":14,"g":1},
      {"t":13.25,"a":65000,"b":24800,"c":1600,"d":99,"e":48,"f":14,"g":2},
      {"t":13.35,"a":64100,"b":24300,"c":1500,"d":86,"e":54,"f":8,"g":2},
      {"t":13.45,"a":62800,"b":23900,"c":1500,"d":86,"e":54,"f":8,"g":1},
      {"t":13.55,"a":61800,"b":23600,"c":1470,"d":104,"e":43,"f":11,"g":1},
      {"t":13.65,"a":61200,"b":23300,"c":1470,"d":104,"e":43,"f":11,"g":1},
      {"t":13.75,"a":60600,"b":23400,"c":1450,"d":72,"e":58,"f":7,"g":1},
      {"t":13.85,"a":60000,"b":23300,"c":1450,"d":72,"e":58,"f":7,"g":2},
      {"t":13.95,"a":59400,"b":23100,"c":1420,"d":95,"e":39,"f":12,"g":1},
      {"t":14.05,"a":58800,"b":23100,"c":1420,"d":95,"e":39,"f":12,"g":1},
      {"t":14.15,"a":58600,"b":22800,"c":1480,"d":86,"e":50,"f":9,"g":1},
      {"t":14.25,"a":59100,"b":23200,"c":1480,"d":86,"e":50,"f":9,"g":1},
      {"t":14.35,"a":60600,"b":23900,"c":1530,"d":108,"e":43,"f":4.5,"g":2},
      {"t":14.45,"a":62300,"b":24600,"c":1530,"d":108,"e":43,"f":4.5,"g":1},
      {"t":14.55,"a":63900,"b":25300,"c":1710,"d":90,"e":60,"f":11,"g":1},
      {"t":14.65,"a":65600,"b":26100,"c":1710,"d":90,"e":60,"f":11,"g":1},
      {"t":14.75,"a":67200,"b":27200,"c":1850,"d":99,"e":45,"f":7.5,"g":1},
      {"t":14.85,"a":69200,"b":28400,"c":1850,"d":99,"e":45,"f":7.5,"g":1},
      {"t":14.95,"a":71800,"b":29700,"c":2010,"d":81,"e":54,"f":11,"g":1},
      {"t":15.05,"a":74000,"b":30800,"c":2010,"d":81,"e":54,"f":11,"g":1},
      {"t":15.15,"a":75900,"b":31700,"c":2130,"d":108,"e":41,"f":6,"g":2},
      {"t":15.25,"a":76300,"b":32700,"c":2130,"d":108,"e":41,"f":6,"g":1},
      {"t":15.35,"a":77400,"b":33500,"c":2340,"d":90,"e":52,"f":12,"g":1},
      {"t":15.45,"a":77500,"b":33600,"c":2340,"d":90,"e":52,"f":12,"g":1},
      {"t":15.55,"a":74500,"b":32700,"c":2160,"d":113,"e":39,"f":9,"g":1},
      {"t":15.65,"a":74800,"b":32800,"c":2160,"d":113,"e":39,"f":9,"g":1},
      {"t":15.75,"a":78000,"b":32600,"c":2080,"d":86,"e":56,"f":4,"g":1},
      {"t":15.85,"a":76000,"b":31100,"c":2080,"d":86,"e":56,"f":4,"g":2},
      {"t":15.95,"a":70500,"b":29900,"c":1870,"d":104,"e":43,"f":11,"g":1},
      {"t":16.05,"a":67500,"b":28500,"c":1870,"d":104,"e":43,"f":11,"g":1},
      {"t":16.15,"a":64500,"b":26900,"c":1560,"d":81,"e":50,"f":7.5,"g":1},
      {"t":16.25,"a":61700,"b":25100,"c":1560,"d":81,"e":50,"f":7.5,"g":1},
      {"t":16.35,"a":59200,"b":23600,"c":1330,"d":63,"e":39,"f":4.5,"g":1},
      {"t":16.45,"a":59000,"b":22600,"c":1330,"d":63,"e":39,"f":4.5,"g":2},
      {"t":16.55,"a":56000,"b":21600,"c":1280,"d":54,"e":37,"f":9,"g":1},
      {"t":16.65,"a":55100,"b":21100,"c":1280,"d":54,"e":37,"f":9,"g":1},
      {"t":16.75,"a":55000,"b":21000,"c":1230,"d":68,"e":48,"f":6,"g":1},
      {"t":16.85,"a":54900,"b":21000,"c":1230,"d":68,"e":48,"f":6,"g":1},
      {"t":16.95,"a":54700,"b":20900,"c":1220,"d":59,"e":41,"f":3,"g":1},
      {"t":17.05,"a":54000,"b":20500,"c":1220,"d":59,"e":41,"f":3,"g":1},
      {"t":17.15,"a":53800,"b":20300,"c":1200,"d":72,"e":52,"f":9,"g":2},
      {"t":17.25,"a":53800,"b":20400,"c":1200,"d":72,"e":52,"f":9,"g":1},
      {"t":17.35,"a":54400,"b":20700,"c":1230,"d":54,"e":39,"f":7,"g":1},
      {"t":17.45,"a":55600,"b":21000,"c":1230,"d":54,"e":39,"f":7,"g":1},
      {"t":17.55,"a":56400,"b":21300,"c":1220,"d":68,"e":43,"f":11,"g":1},
      {"t":17.65,"a":56400,"b":21200,"c":1220,"d":68,"e":43,"f":11,"g":1},
      {"t":17.75,"a":55600,"b":20900,"c":1260,"d":50,"e":54,"f":5,"g":2},
      {"t":17.85,"a":55600,"b":21000,"c":1260,"d":50,"e":54,"f":5,"g":1},
      {"t":17.95,"a":55400,"b":21000,"c":1240,"d":72,"e":37,"f":9,"g":1},
      {"t":18.05,"a":55300,"b":21100,"c":1240,"d":72,"e":37,"f":9,"g":1},
      {"t":18.15,"a":55100,"b":21000,"c":1280,"d":59,"e":50,"f":7.5,"g":1},
      {"t":18.25,"a":54900,"b":20900,"c":1280,"d":59,"e":50,"f":7.5,"g":1},
      {"t":18.35,"a":55000,"b":21000,"c":1300,"d":77,"e":41,"f":4,"g":1},
      {"t":18.45,"a":55200,"b":21200,"c":1300,"d":77,"e":41,"f":4,"g":2},
      {"t":18.55,"a":56000,"b":21700,"c":1390,"d":100,"e":35,"f":11,"g":1},
      {"t":18.65,"a":56700,"b":22100,"c":1390,"d":85,"e":35,"f":11,"g":1},
      {"t":18.75,"a":56800,"b":22100,"c":1530,"d":72,"e":48,"f":7.5,"g":1},
      {"t":18.85,"a":57000,"b":22300,"c":1530,"d":72,"e":48,"f":7.5,"g":1},
      {"t":18.95,"a":57800,"b":22600,"c":1510,"d":63,"e":39,"f":11,"g":2},
      {"t":19.05,"a":58300,"b":22700,"c":1510,"d":63,"e":39,"f":11,"g":1},
      {"t":19.15,"a":58500,"b":22600,"c":1500,"d":81,"e":58,"f":6,"g":1},
      {"t":19.25,"a":58200,"b":22600,"c":1500,"d":81,"e":58,"f":6,"g":2},
      {"t":19.35,"a":57600,"b":22700,"c":1480,"d":68,"e":43,"f":11,"g":2},
      {"t":19.45,"a":57700,"b":22800,"c":1480,"d":68,"e":43,"f":11,"g":1},
      {"t":19.55,"a":57800,"b":22900,"c":1490,"d":90,"e":39,"f":9,"g":1},
      {"t":19.65,"a":57700,"b":22900,"c":1490,"d":90,"e":39,"f":9,"g":1},
      {"t":19.75,"a":57600,"b":23000,"c":1520,"d":77,"e":54,"f":4.5,"g":1},
      {"t":19.85,"a":57300,"b":22900,"c":1520,"d":77,"e":54,"f":4.5,"g":2},
      {"t":19.95,"a":57100,"b":22800,"c":1540,"d":95,"e":41,"f":12,"g":2},
      {"t":20.05,"a":57100,"b":22800,"c":1540,"d":95,"e":41,"f":12,"g":1},
      {"t":20.15,"a":56800,"b":22900,"c":1560,"d":81,"e":60,"f":8,"g":1},
      {"t":20.25,"a":56100,"b":23000,"c":1560,"d":81,"e":60,"f":8,"g":1},
      {"t":20.35,"a":56400,"b":23100,"c":1590,"d":99,"e":45,"f":11,"g":1},
      {"t":20.45,"a":57300,"b":23100,"c":1590,"d":99,"e":45,"f":11,"g":2},
      {"t":20.55,"a":58200,"b":23200,"c":1610,"d":77,"e":41,"f":6,"g":2},
      {"t":20.65,"a":59000,"b":23400,"c":1610,"d":77,"e":41,"f":6,"g":1},
      {"t":20.75,"a":60000,"b":23500,"c":1650,"d":108,"e":56,"f":11,"g":1},
      {"t":20.85,"a":58600,"b":22900,"c":1650,"d":108,"e":56,"f":11,"g":3},
      {"t":20.95,"a":58100,"b":22500,"c":1700,"d":99,"e":43,"f":9,"g":2},
      {"t":21.05,"a":57800,"b":22100,"c":1700,"d":99,"e":43,"f":9,"g":1},
      {"t":21.15,"a":56900,"b":21700,"c":1750,"d":117,"e":63,"f":12,"g":1},
      {"t":21.25,"a":56700,"b":21300,"c":1750,"d":117,"e":63,"f":12,"g":1},
      {"t":21.35,"a":56400,"b":21100,"c":1720,"d":95,"e":48,"f":7,"g":1},
      {"t":21.45,"a":55800,"b":21000,"c":1720,"d":95,"e":48,"f":7,"g":2},
      {"t":21.55,"a":55200,"b":21100,"c":1660,"d":108,"e":41,"f":11,"g":2},
      {"t":21.65,"a":54200,"b":21100,"c":1660,"d":108,"e":41,"f":11,"g":1},
      {"t":21.75,"a":53300,"b":21000,"c":1600,"d":86,"e":52,"f":7.5,"g":1},
      {"t":21.85,"a":53500,"b":21300,"c":1600,"d":86,"e":52,"f":7.5,"g":1},
      {"t":21.95,"a":54400,"b":21400,"c":1570,"d":95,"e":39,"f":12,"g":2},
      {"t":22.05,"a":55200,"b":21400,"c":1570,"d":95,"e":39,"f":12,"g":2},
      {"t":22.15,"a":55800,"b":21500,"c":1490,"d":77,"e":48,"f":9,"g":1},
      {"t":22.25,"a":57000,"b":20900,"c":1490,"d":77,"e":48,"f":9,"g":1},
      {"t":22.35,"a":53500,"b":19600,"c":1400,"d":86,"e":37,"f":5,"g":2},
      {"t":22.45,"a":49200,"b":18400,"c":1400,"d":86,"e":37,"f":5,"g":1},
      {"t":22.55,"a":46500,"b":17400,"c":1300,"d":68,"e":50,"f":11,"g":1},
      {"t":22.65,"a":45300,"b":16600,"c":1300,"d":68,"e":50,"f":11,"g":1},
      {"t":22.75,"a":44600,"b":15600,"c":1220,"d":77,"e":39,"f":8,"g":1},
      {"t":22.85,"a":43900,"b":15200,"c":1220,"d":77,"e":39,"f":8,"g":2},
      {"t":22.95,"a":43300,"b":15500,"c":1150,"d":59,"e":52,"f":12,"g":2},
      {"t":23.05,"a":42900,"b":15300,"c":1150,"d":59,"e":52,"f":12,"g":1},
      {"t":23.15,"a":42700,"b":15100,"c":1130,"d":72,"e":37,"f":9,"g":1},
      {"t":23.25,"a":43100,"b":15300,"c":1130,"d":72,"e":37,"f":9,"g":2},
      {"t":23.35,"a":43200,"b":15300,"c":1100,"d":50,"e":48,"f":14,"g":2},
      {"t":23.45,"a":43400,"b":15400,"c":1100,"d":50,"e":48,"f":14,"g":1},
      {"t":23.55,"a":44300,"b":15800,"c":1110,"d":63,"e":39,"f":11,"g":1},
      {"t":23.65,"a":44800,"b":16000,"c":1110,"d":63,"e":39,"f":11,"g":1},
      {"t":23.75,"a":45300,"b":16300,"c":1150,"d":50,"e":54,"f":7.5,"g":1},
      {"t":23.85,"a":45200,"b":16400,"c":1150,"d":50,"e":54,"f":7.5,"g":2},
      {"t":23.95,"a":44800,"b":16300,"c":1120,"d":63,"e":43,"f":11,"g":2}
    ]
  },
  "transform": [
    {"fold": ["a", "b", "c", "d", "e", "f", "g"], "as": ["size", "n"]}
  ],
  "layer": [
    {
      "mark": {"type": "line", "strokeWidth": 2.6, "clip": true},
      "encoding": {
        "x": {
          "field": "t",
          "type": "quantitative",
          "scale": {"domain": [0, 24], "nice": false, "zero": false},
          "axis": {
            "orient": "bottom",
            "values": [0, 2, 4, 6, 8, 10, 12, 14, 16, 18, 20, 22, 24],
            "tickSize": 18,
            "labelPadding": 33,
            "labelFlush": false,
            "zindex": 1,
            "title": "Time (hour local)",
            "titleX": 813,
            "titleY": 187,
            "titleBaseline": "alphabetic",
            "titleAlign": "center"
          }
        },
        "y": {
          "field": "n",
          "type": "quantitative",
          "scale": {"type": "log", "domain": [1, 2000000], "nice": false},
          "axis": {
            "orient": "left",
            "values": [1, 10, 100, 1000, 10000, 100000, 1000000],
            "labelExpr": "'10'",
            "tickSize": 18,
            "labelPadding": 56,
            "labelOffset": 12,
            "labelBaseline": "middle",
            "labelFlush": false,
            "zindex": 1,
            "title": "Number density (counts/liter)",
            "titleAngle": 270,
            "titleX": -167,
            "titleY": 726,
            "titleBaseline": "alphabetic",
            "titleAlign": "center"
          }
        },
        "color": {
          "field": "size",
          "type": "nominal",
          "scale": {
            "domain": ["a", "b", "c", "d", "e", "f", "g"],
            "range": ["#0072BD", "#D95319", "#EDB120", "#7E2F8E", "#77AC30", "#4DBEEE", "#A2142F"]
          },
          "legend": {
            "orient": "none",
            "legendX": 1320,
            "legendY": 48,
            "title": null,
            "padding": 0,
            "symbolType": "stroke",
            "symbolSize": 16900,
            "symbolStrokeWidth": 2.5,
            "clipHeight": 74,
            "labelFont": "Liberation Sans",
            "labelFontSize": 56,
            "labelColor": "black",
            "labelAlign": "center",
            "labelOffset": 66,
            "rowPadding": 0,
            "labelExpr": "{'a': '0.25', 'b': '0.35', 'c': '0.5', 'd': '0.7', 'e': '1.3', 'f': '2.5', 'g': '4'}[datum.value]"
          }
        }
      }
    },
    {
      "mark": {"type": "line", "opacity": 0},
      "encoding": {
        "x": {
          "field": "t",
          "type": "quantitative",
          "scale": {"domain": [0, 24], "nice": false, "zero": false},
          "axis": {"orient": "bottom", "tickCount": 120, "tickSize": 10, "labels": false, "domain": false, "title": null}
        },
        "y": {
          "field": "n",
          "type": "quantitative",
          "scale": {"type": "log", "domain": [1, 2000000], "nice": false},
          "axis": {
            "orient": "left",
            "values": [2, 3, 4, 5, 6, 7, 8, 9, 20, 30, 40, 50, 60, 70, 80, 90, 200, 300, 400, 500, 600, 700, 800, 900, 2000, 3000, 4000, 5000, 6000, 7000, 8000, 9000, 20000, 30000, 40000, 50000, 60000, 70000, 80000, 90000, 200000, 300000, 400000, 500000, 600000, 700000, 800000, 900000],
            "tickSize": 10,
            "labels": false,
            "domain": false,
            "title": null
          }
        }
      }
    },
    {
      "mark": {"type": "line", "opacity": 0},
      "encoding": {
        "x": {
          "field": "t",
          "type": "quantitative",
          "scale": {"domain": [0, 24], "nice": false, "zero": false},
          "axis": {"orient": "top", "values": [0, 2, 4, 6, 8, 10, 12, 14, 16, 18, 20, 22, 24], "tickSize": 18, "labels": false, "zindex": 1, "title": null}
        },
        "y": {
          "field": "n",
          "type": "quantitative",
          "scale": {"type": "log", "domain": [1, 2000000], "nice": false},
          "axis": {"orient": "right", "values": [1, 10, 100, 1000, 10000, 100000, 1000000], "tickSize": 18, "labels": false, "zindex": 1, "title": null}
        }
      }
    },
    {
      "mark": {"type": "line", "opacity": 0},
      "encoding": {
        "x": {
          "field": "t",
          "type": "quantitative",
          "scale": {"domain": [0, 24], "nice": false, "zero": false},
          "axis": {"orient": "top", "tickCount": 120, "tickSize": 10, "labels": false, "domain": false, "title": null}
        },
        "y": {
          "field": "n",
          "type": "quantitative",
          "scale": {"type": "log", "domain": [1, 2000000], "nice": false},
          "axis": {
            "orient": "right",
            "values": [2, 3, 4, 5, 6, 7, 8, 9, 20, 30, 40, 50, 60, 70, 80, 90, 200, 300, 400, 500, 600, 700, 800, 900, 2000, 3000, 4000, 5000, 6000, 7000, 8000, 9000, 20000, 30000, 40000, 50000, 60000, 70000, 80000, 90000, 200000, 300000, 400000, 500000, 600000, 700000, 800000, 900000],
            "tickSize": 10,
            "labels": false,
            "domain": false,
            "title": null
          }
        }
      }
    },
    {
      "mark": {"type": "line", "opacity": 0},
      "encoding": {
        "y": {
          "field": "n",
          "type": "quantitative",
          "scale": {"type": "log", "domain": [1, 2000000], "nice": false},
          "axis": {
            "orient": "left",
            "values": [1, 10, 100, 1000, 10000, 100000, 1000000],
            "labelExpr": "format(log(datum.value) / LN10, '.0f')",
            "ticks": false,
            "domain": false,
            "labelAlign": "left",
            "labelBaseline": "middle",
            "labelPadding": 74,
            "labelOffset": -15,
            "labelFlush": false,
            "labelFontSize": 44,
            "title": null
          }
        }
      }
    }
  ],
  "resolve": {"axis": {"x": "independent", "y": "independent"}},
  "config": {
    "view": {"stroke": null},
    "axis": {
      "grid": false,
      "domainColor": "#262626",
      "domainWidth": 2,
      "tickColor": "#262626",
      "tickWidth": 2,
      "labelColor": "#262626",
      "titleColor": "#262626",
      "labelFont": "Liberation Sans",
      "titleFont": "Liberation Sans",
      "labelFontSize": 62,
      "titleFontSize": 68,
      "titleFontWeight": "normal"
    }
  }
}
